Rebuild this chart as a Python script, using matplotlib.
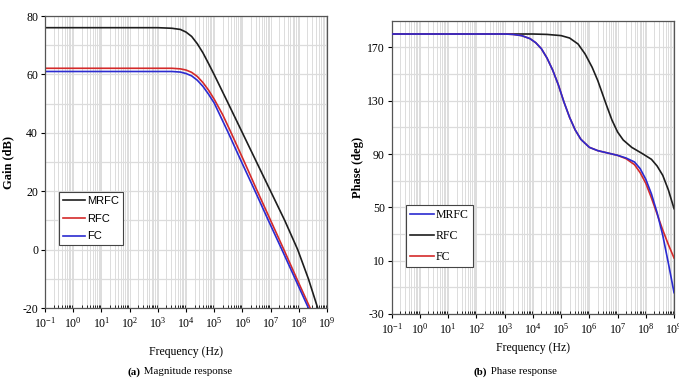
import numpy as np
import matplotlib
matplotlib.use('Agg')
import matplotlib.pyplot as plt
from matplotlib.ticker import LogLocator, FuncFormatter, MultipleLocator, NullFormatter

plt.rcParams['font.family'] = 'serif'
plt.rcParams['font.serif'] = ['Liberation Serif', 'DejaVu Serif']
plt.rcParams['axes.unicode_minus'] = False

# frequencies given as log10(Hz)
# (a) magnitude response, gain in dB
mrfc_gain_logf = [-1, 3.0, 3.5, 3.8, 4.0, 4.2, 4.4, 4.6, 4.8, 5.0, 5.5, 6.0, 6.5, 7.0, 7.5, 7.96, 8.34, 8.67, 8.72]
mrfc_gain = [76, 76, 75.8, 75.4, 74.5, 73.0, 70.5, 67.4, 63.7, 59.9, 50.0, 40, 30, 20, 10, 0, -10, -20, -21.5]
rfc_gain_logf = [-1, 3.5, 3.8, 4.0, 4.2, 4.4, 4.6, 4.8, 5.0, 5.3, 5.6, 6.07, 6.53, 7.0, 7.47, 7.93, 8.4, 8.45]
rfc_gain = [62.1, 62.1, 61.9, 61.5, 60.7, 59.3, 57.2, 54.6, 51.5, 46.2, 40.0, 30, 20, 10, 0, -10, -20, -21]
fc_gain_logf = [-1, 3.5, 3.8, 4.0, 4.2, 4.4, 4.6, 4.8, 5.0, 5.5, 5.97, 6.45, 6.92, 7.4, 7.87, 8.34, 8.4]
fc_gain = [61.0, 61.0, 60.8, 60.3, 59.5, 58.0, 55.9, 53.2, 50.2, 40, 30, 20, 10, 0, -10, -20, -21]

# (b) phase response, degrees
mrfc_ph_logf = [-1, 3.0, 3.3, 3.6, 3.9, 4.1, 4.3, 4.5, 4.7, 4.9, 5.1, 5.3, 5.5, 5.7, 6.0, 6.3, 6.7,
                7.0, 7.3, 7.6, 7.8, 8.0, 8.2, 8.4, 8.6, 8.8, 9.0]
mrfc_ph = [180, 180, 179.7, 178.8, 176.5, 173.5, 169, 162, 153, 142, 129, 117.5, 108, 101, 95, 92.5, 90.5,
           89, 87, 84, 79, 71, 60, 46, 29, 8, -14]
rfc_ph_logf = [-1, 4.0, 4.5, 5.0, 5.3, 5.6, 5.85, 6.1, 6.3, 6.45, 6.6, 6.8, 7.0, 7.2, 7.5, 7.9,
               8.2, 8.4, 8.6, 8.8, 9.0]
rfc_ph = [180, 180, 179.7, 178.8, 177, 172.5, 165, 155, 145, 136, 127, 115.5, 106.5, 100.5, 95, 90,
          86, 81, 74, 63, 49]
fc_ph_logf = [-1, 3.0, 3.3, 3.6, 3.9, 4.1, 4.3, 4.5, 4.7, 4.9, 5.1, 5.3, 5.5, 5.7, 6.0, 6.3, 6.7,
              7.0, 7.3, 7.6, 7.8, 8.0, 8.2, 8.4, 8.6, 8.8, 9.0]
fc_ph = [180, 180, 179.7, 178.8, 176.5, 173.5, 169, 162, 153, 142, 129, 117.5, 108, 101, 95, 92.5, 90.5,
         89, 86.5, 82, 76, 68, 57, 45, 33, 22, 12]

BLACK = '#1e1e1e'
RED = '#d42a2a'
BLUE = '#2b2bd0'
GRID = '#dcdcdc'


def dec_label(v, pos):
    return r'$\mathregular{10^{%d}}$' % int(round(np.log10(v)))


def style_axes(ax, ylim, ymajor, yminor):
    ax.set_xscale('log')
    ax.set_xlim(1e-1, 1e9)
    ax.set_ylim(*ylim)
    ax.xaxis.set_major_locator(LogLocator(base=10, numticks=20))
    ax.xaxis.set_minor_locator(LogLocator(base=10, subs=np.arange(2, 10), numticks=200))
    ax.xaxis.set_major_formatter(FuncFormatter(dec_label))
    ax.xaxis.set_minor_formatter(NullFormatter())
    ax.yaxis.set_major_locator(MultipleLocator(ymajor))
    ax.yaxis.set_minor_locator(MultipleLocator(yminor))
    ax.grid(which='both', axis='x', color=GRID, linewidth=0.7)
    ax.grid(which='both', axis='y', color=GRID, linewidth=0.9)
    ax.set_axisbelow(True)
    ax.tick_params(axis='x', which='major', direction='out', length=3, labelsize=8.5, pad=3)
    ax.tick_params(axis='x', which='minor', direction='in', length=2.5)
    ax.tick_params(axis='y', which='major', direction='out', length=3, labelsize=8.5, pad=2)
    ax.tick_params(axis='y', which='minor', length=0)
    for s in ax.spines.values():
        s.set_color('#555555')
        s.set_linewidth(0.9)


fig = plt.figure(figsize=(6.79, 3.83), dpi=100)

# (a) magnitude
ax1 = fig.add_axes([0.0663, 0.1958, 0.4153, 0.7624])
style_axes(ax1, (-20, 80), 20, 10)
ax1.plot(10.0 ** np.array(mrfc_gain_logf), mrfc_gain, color=BLACK, lw=1.2, label='MRFC')
ax1.plot(10.0 ** np.array(rfc_gain_logf), rfc_gain, color=RED, lw=1.2, label='RFC')
ax1.plot(10.0 ** np.array(fc_gain_logf), fc_gain, color=BLUE, lw=1.2, label='FC')
ax1.set_ylabel('Gain (dB)', fontsize=9, fontweight='bold')
ax1.yaxis.set_label_coords(-0.11, 0.5)
ax1.set_xlabel('Frequency (Hz)', fontsize=8.5)
ax1.xaxis.set_label_coords(0.5, -0.13)
leg1 = ax1.legend(loc='upper left', bbox_to_anchor=(59 / 679, 1 - 192 / 383),
                  bbox_transform=fig.transFigure, prop={'family': 'Liberation Sans', 'size': 8},
                  fancybox=False, edgecolor='#444444', framealpha=1, borderpad=0.35,
                  handlelength=2.0, handletextpad=0.2, labelspacing=0.7, borderaxespad=0)
leg1.get_frame().set_linewidth(0.8)

# (b) phase
ax2 = fig.add_axes([0.5769, 0.1802, 0.4158, 0.7658])
style_axes(ax2, (-30, 190), 40, 20)
ax2.set_yticks([-30, 10, 50, 90, 130, 170])
ax2.set_yticks([-10, 30, 70, 110, 150], minor=True)
ax2.plot(10.0 ** np.array(rfc_ph_logf), rfc_ph, color=BLACK, lw=1.2, label='RFC', zorder=2)
ax2.plot(10.0 ** np.array(fc_ph_logf), fc_ph, color=RED, lw=1.2, label='FC', zorder=3)
ax2.plot(10.0 ** np.array(mrfc_ph_logf), mrfc_ph, color=BLUE, lw=1.2, label='MRFC', zorder=4)
ax2.set_ylabel('Phase (deg)', fontsize=9, fontweight='bold')
ax2.yaxis.set_label_coords(-0.098, 0.5)
ax2.set_xlabel('Frequency (Hz)', fontsize=8.5)
ax2.xaxis.set_label_coords(0.5, -0.095)
h, l = ax2.get_legend_handles_labels()
order = [l.index('MRFC'), l.index('RFC'), l.index('FC')]
leg2 = ax2.legend([h[i] for i in order], [l[i] for i in order], loc='upper left',
                  bbox_to_anchor=(406 / 679, 1 - 205 / 383), bbox_transform=fig.transFigure,
                  prop={'size': 8.5}, fancybox=False, edgecolor='#444444', framealpha=1,
                  borderpad=0.35, handlelength=2.0, handletextpad=0.2, labelspacing=0.75,
                  borderaxespad=0)
leg2.get_frame().set_linewidth(0.8)

# captions
fig.text(140 / 679, 1 - 372 / 383, '(a)', fontsize=7.8, fontweight='bold', ha='right', va='center')
fig.text(141 / 679, 1 - 372 / 383, ' Magnitude response', fontsize=7.8, ha='left', va='center')
fig.text(487 / 679, 1 - 372 / 383, '(b)', fontsize=7.8, fontweight='bold', ha='right', va='center')
fig.text(488 / 679, 1 - 372 / 383, ' Phase response', fontsize=7.8, ha='left', va='center')

fig.savefig('out.png', dpi=100)
